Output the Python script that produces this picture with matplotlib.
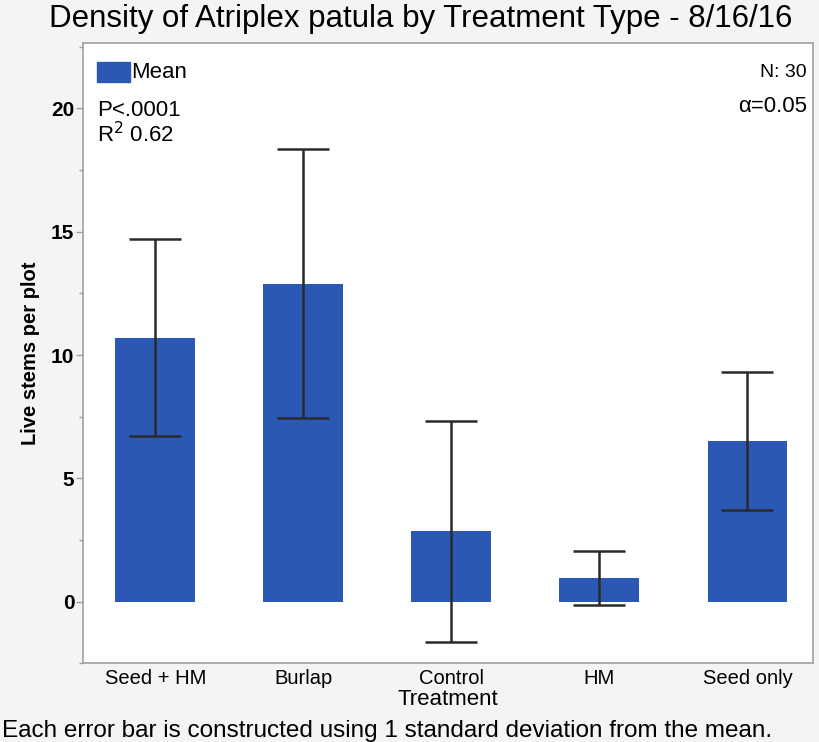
import numpy as np
import matplotlib.pyplot as plt

plt.rcParams['font.family'] = ['Liberation Sans', 'DejaVu Sans']

treatments = ['Seed + HM', 'Burlap', 'Control', 'HM', 'Seed only']
means = [10.7, 12.9, 2.85, 0.96, 6.5]
sds = [4.0, 5.45, 4.47, 1.1, 2.8]

bar_color = '#2b57b5'
frame_color = '#a0a0a0'

fig = plt.figure(figsize=(8.2, 7.42), dpi=100)
fig.patch.set_facecolor('#f4f4f2')
ax = fig.add_axes([0.101, 0.106, 0.890, 0.836])
ax.set_facecolor('white')

x = np.arange(len(treatments))
ax.bar(x, means, width=0.54, color=bar_color, zorder=2)
ax.errorbar(x, means, yerr=sds, fmt='none', ecolor='#2a2a2a', elinewidth=1.8,
            capsize=19, capthick=1.8, zorder=3)

ax.set_xlim(-0.49, 4.44)
ax.set_ylim(-2.5, 22.65)
ax.set_yticks([0, 5, 10, 15, 20])
ax.set_yticks(np.arange(-2.5, 22.6, 2.5), minor=True)
ax.set_xticks(x)
ax.set_xticklabels(treatments, fontsize=14.5)
ax.tick_params(axis='y', which='major', direction='out', length=5, width=1,
               color=frame_color, labelsize=15, pad=1)
ax.tick_params(axis='y', which='minor', direction='out', length=3, width=1,
               color=frame_color)
ax.tick_params(axis='x', length=0, pad=4)
for lbl in ax.get_yticklabels():
    lbl.set_fontweight('bold')
for s in ax.spines.values():
    s.set_color(frame_color)
    s.set_linewidth(1.2)

ax.set_ylabel('Live stems per plot', fontsize=14.5, fontweight='bold', labelpad=8)
ax.set_xlabel('Treatment', fontsize=16, labelpad=1)
fig.text(0.513, 0.975, 'Density of Atriplex patula by Treatment Type - 8/16/16',
         ha='center', va='center', fontsize=22.5)
fig.text(0.003, 0.015, 'Each error bar is constructed using 1 standard deviation from the mean.',
         ha='left', va='center', fontsize=17.5)

# legend swatch and fit statistics
ax.add_patch(plt.Rectangle((0.020, 0.937), 0.044, 0.032, transform=ax.transAxes,
                           color=bar_color, zorder=4))
ax.text(0.066, 0.952, 'Mean', transform=ax.transAxes, fontsize=16, va='center')
ax.text(0.019, 0.891, 'P<.0001', transform=ax.transAxes, fontsize=16, va='center')
ax.text(0.019, 0.852, 'R$^2$ 0.62', transform=ax.transAxes, fontsize=16, va='center')
ax.text(0.992, 0.953, 'N: 30', transform=ax.transAxes, fontsize=14, va='center', ha='right')
ax.text(0.992, 0.897, 'α=0.05', transform=ax.transAxes, fontsize=16, va='center', ha='right')

fig.savefig('out.png', dpi=100, facecolor=fig.get_facecolor())
